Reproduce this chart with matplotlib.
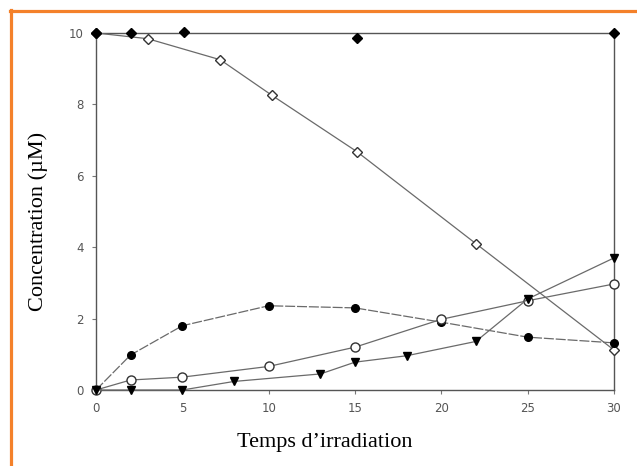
import matplotlib.pyplot as plt
from matplotlib.lines import Line2D

# temps d'irradiation (min) et concentrations (µM)
t_sub = [0, 3, 7.2, 10.2, 15.1, 22, 30]
c_sub = [10, 9.84, 9.25, 8.25, 6.68, 4.1, 1.12]

t_ref = [0, 2, 5.1, 15.1, 30]
c_ref = [10, 10, 10.03, 9.86, 10]

t_p1 = [0, 2, 5, 10, 15, 20, 25, 30]
c_p1 = [0, 0.98, 1.8, 2.36, 2.3, 1.9, 1.48, 1.32]

t_p2 = [0, 2, 5, 10, 15, 20, 25, 30]
c_p2 = [0, 0.28, 0.36, 0.66, 1.2, 1.98, 2.5, 2.97]

t_p3 = [0, 2, 5, 8, 13, 15, 18, 22, 25, 30]
c_p3 = [0, 0, 0, 0.24, 0.45, 0.78, 0.96, 1.36, 2.55, 3.7]

xticks = [0, 5, 10, 15, 20, 25, 30]
yticks = [0, 2, 4, 6, 8, 10]

fig = plt.figure(figsize=(6.37, 4.66), dpi=100)
ax = fig.add_axes([96 / 637, 1 - 390 / 466, (614 - 96) / 637, (390 - 33) / 466])

lc = '#6a6a6a'
lw = 0.9
ax.plot(t_sub, c_sub, color=lc, lw=lw, marker='D', ms=5.5, mfc='white', mec='#333', mew=1, clip_on=False, zorder=3)
ax.plot(t_ref, c_ref, ls='none', marker='D', ms=5.5, color='black', clip_on=False, zorder=4)
ax.plot(t_p1, c_p1, color=lc, lw=lw, ls=(0, (8, 1.5)), marker='o', ms=5.5, mfc='black', mec='black', clip_on=False, zorder=3)
ax.plot(t_p2, c_p2, color=lc, lw=lw, marker='o', ms=6.5, mfc='white', mec='#333', mew=1, clip_on=False, zorder=3)
ax.plot(t_p3, c_p3, color=lc, lw=lw, marker='v', ms=6, mfc='black', mec='black', clip_on=False, zorder=4)

ax.set_xlim(0, 30)
ax.set_ylim(0, 10)
ax.set_xticks(xticks)
ax.set_yticks(yticks)
for s in ax.spines.values():
    s.set_color('#555')
    s.set_linewidth(1.0)
ax.tick_params(direction='out', length=3, width=0.8, color='#777', labelcolor='#555', labelsize=8.5, pad=6)

fig.text(325 / 637, 1 - 442 / 466, 'Temps d’irradiation', family='Liberation Serif', fontsize=16,
         ha='center', va='center')
fig.text(38 / 637, 1 - 221 / 466, 'Concentration (µM)', family='Liberation Serif', fontsize=16,
         rotation=90, ha='center', va='center')

# cadre orange
orange = '#f4812a'
fig.add_artist(Line2D([11 / 637, 11 / 637], [0, 1 - 10 / 466], color=orange, lw=2.3, transform=fig.transFigure))
fig.add_artist(Line2D([10 / 637, 636 / 637], [1 - 11 / 466, 1 - 11 / 466], color=orange, lw=2.3, transform=fig.transFigure))

fig.savefig('out.png', dpi=100)
